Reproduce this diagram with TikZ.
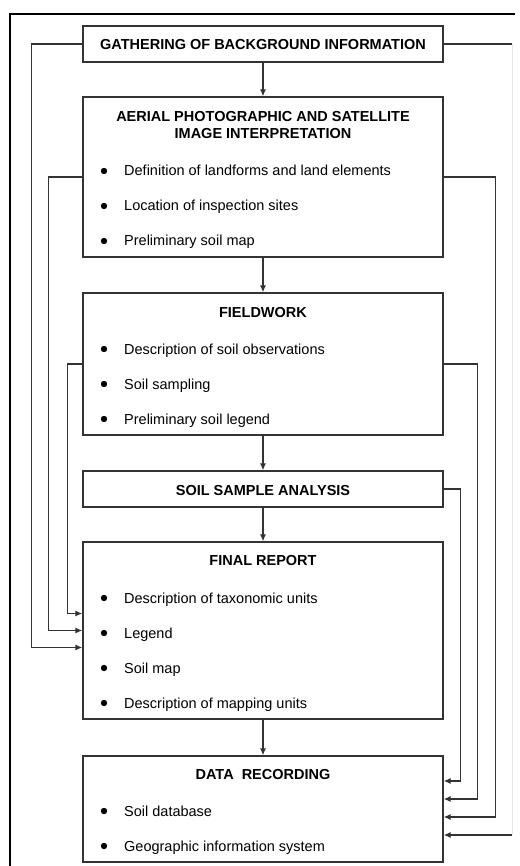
\documentclass[tikz,border=0pt]{standalone}
\usepackage{fontspec}
\setmainfont{Liberation Sans}
\usepackage{xcolor}
\definecolor{flowLine}{HTML}{333333}
\definecolor{flowFaint}{HTML}{E6E6E6}
\usetikzlibrary{arrows.meta}
\tikzset{
  box/.style={draw=flowLine, line width=1.3pt, minimum width=360pt, inner sep=0pt},
  title/.style={inner sep=0pt, align=center, font=\bfseries\fontsize{14.5}{17}\selectfont},
  item/.style={anchor=west, inner sep=0pt, text height=10pt, text depth=0pt, font=\fontsize{14.5}{17}\selectfont},
  flow/.style={flowLine, line width=1.2pt, -{Latex[length=7pt,width=6pt]}},
  back/.style={flowLine, line width=1.2pt},
}

\begin{document}
\begin{tikzpicture}[x=1pt, y=-1pt]
  \useasboundingbox (0,0) rectangle (519,866);
  \draw[black, line width=2pt] (10,866) -- (10,14) -- (515,14);

  \node[box, minimum height=36pt] (gather) at (263,44) {};
  \node[box, minimum height=160pt] (aerial) at (263,177) {};
  \node[box, minimum height=142pt] (field) at (263,364) {};
  \node[box, minimum height=36pt] (soil) at (263,489) {};
  \node[box, minimum height=177pt] (final) at (263,630.5) {};
  \node[box, minimum height=106pt] (data) at (263,809) {};

  \node[title, text height=10pt, text depth=0pt] (gatherT) at (263,45) {GATHERING OF BACKGROUND INFORMATION};
  \node[title, anchor=north] (aerialT) at (263,111) {AERIAL PHOTOGRAPHIC AND SATELLITE\\IMAGE INTERPRETATION};
  \node[title, text height=10pt, text depth=0pt] (fieldT) at (263,312) {FIELDWORK};
  \node[title, text height=10pt, text depth=0pt] (soilT) at (263,490) {SOIL SAMPLE ANALYSIS};
  \node[title, text height=10pt, text depth=0pt] (finalT) at (263,560) {FINAL REPORT};
  \node[title, text height=10pt, text depth=0pt] (dataT) at (263,774) {DATA\ \ RECORDING};

  \node[item] (a1) at (124,171) {Definition of landforms and land elements};
  \node[item] (a2) at (124,206) {Location of inspection sites};
  \node[item] (a3) at (124,241) {Preliminary soil map};
  \node[item] (f1) at (124,349) {Description of soil observations};
  \node[item] (f2) at (124,384) {Soil sampling};
  \node[item] (f3) at (124,419) {Preliminary soil legend};
  \node[item] (r1) at (124,598) {Description of taxonomic units};
  \node[item] (r2) at (124,633) {Legend};
  \node[item] (r3) at (124,668) {Soil map};
  \node[item] (r4) at (124,703) {Description of mapping units};
  \node[item] (d1) at (124,811) {Soil database};
  \node[item] (d2) at (124,846) {Geographic information system};
  \foreach \y in {171,206,241,349,384,419,598,633,668,703,811,846}
    \fill (104,\y) circle (3.2pt);

  \draw[flow] (gather) -- (aerial);
  \draw[flow] (aerial) -- (field);
  \draw[flow] (field) -- (soil);
  \draw[flow] (soil) -- (final);
  \draw[flow] (final) -- (data);

  \draw[flow] (gather.west) -- ++(-51,0) |- ([yshift=-17pt]final.west);
  \draw[flow] (aerial.west) -- ++(-34,0) |- (final.west);
  \draw[flow] (field.west) -- ++(-15,0) |- ([yshift=17pt]final.west);

  \coordinate (rtop) at (512,44);
  \coordinate (rbot) at (512,835);
  \draw[back] (gather.east) -- (rtop);
  \draw[flowFaint, line width=1pt] (rtop) -- (rbot);
  \draw[flow] (rbot) -- (data.east |- rbot);
  \draw[flow] (aerial.east) -- ++(52,0) |- ([yshift=-8pt]data.east);
  \draw[flow] (field.east) -- ++(34,0) |- ([yshift=10pt]data.east);
  \draw[flow] (soil.east) -- ++(17,0) |- ([yshift=28pt]data.east);
\end{tikzpicture}
\end{document}
